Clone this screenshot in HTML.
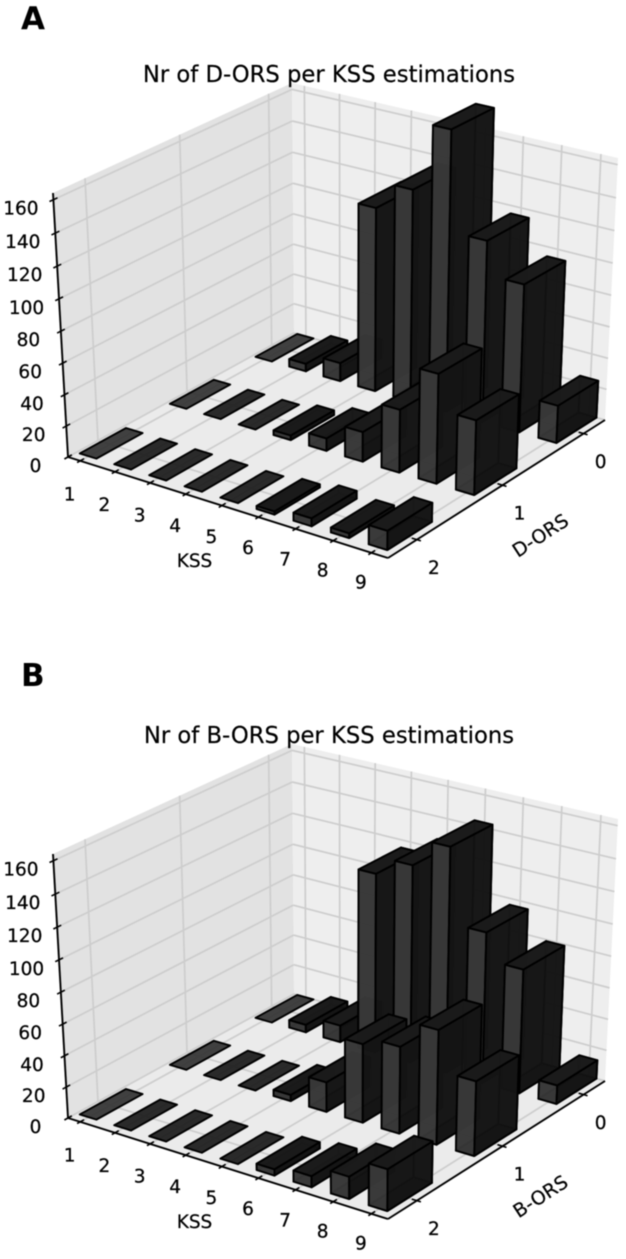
<!DOCTYPE html>
<html lang="en">
<head>
<meta charset="utf-8">
<title>Nr of ORS per KSS estimations</title>
<style>
html,body{margin:0;padding:0;background:#fff;}
svg{display:block;filter:blur(0.5px);font-family:"DejaVu Sans","Liberation Sans",sans-serif;}
</style>
</head>
<body>
<svg id="figure" xmlns="http://www.w3.org/2000/svg" width="626" height="1259" viewBox="0 0 626 1259">
  <rect width="626" height="1259" fill="#ffffff"/>
  <g id="panel-a"></g>
  <g id="panel-b" transform="translate(0,661)"></g>
  <text x="21" y="29" font-size="31" font-weight="bold" fill="#000">A</text>
  <text x="329" y="82" font-size="22.7" text-anchor="middle" fill="#000" stroke="#000" stroke-width="0.2">Nr of D-ORS per KSS estimations</text>
  <text x="194.5" y="567" font-size="18.5" text-anchor="middle" fill="#000" stroke="#000" stroke-width="0.2">KSS</text>
  <text x="0" y="0" font-size="19" text-anchor="middle" fill="#000" stroke="#000" stroke-width="0.2" transform="translate(544,541) rotate(-33)">D-ORS</text>
  <text x="21" y="686" font-size="31" font-weight="bold" fill="#000">B</text>
  <text x="329" y="743" font-size="22.7" text-anchor="middle" fill="#000" stroke="#000" stroke-width="0.2">Nr of B-ORS per KSS estimations</text>
  <text x="194.5" y="1228" font-size="18.5" text-anchor="middle" fill="#000" stroke="#000" stroke-width="0.2">KSS</text>
  <text x="0" y="0" font-size="19" text-anchor="middle" fill="#000" stroke="#000" stroke-width="0.2" transform="translate(544,1202) rotate(-33)">B-ORS</text>
</svg>
<script>
// ---- chart data ----
const kssCategories = [1, 2, 3, 4, 5, 6, 7, 8, 9];
const orsLevels = [0, 1, 2];
const countTicks = [0, 20, 40, 60, 80, 100, 120, 140, 160];

const dOrs0 = [0, 5, 12, 118, 135, 177, 115, 94, 24];
const dOrs1 = [0, 0, 0, 3, 8, 19, 40, 69, 47];
const dOrs2 = [0, 0, 0, 0, 0, 2, 5, 3, 12];

const bOrs0 = [0, 5, 11, 115, 126, 143, 96, 79, 12];
const bOrs1 = [0, 0, 0, 4, 19, 50, 55, 72, 47];
const bOrs2 = [0, 0, 0, 0, 0, 4, 7, 14, 26];

// ---- projection: homographies of floor and ceiling of the 3D box ----
const NS = 'http://www.w3.org/2000/svg';
const zMax = 164;
function homography(q) {
  const [x0, y0] = q[0], [x1, y1] = q[1], [x2, y2] = q[2], [x3, y3] = q[3];
  const dx1 = x1 - x2, dx2 = x3 - x2, sx = x0 - x1 + x2 - x3;
  const dy1 = y1 - y2, dy2 = y3 - y2, sy = y0 - y1 + y2 - y3;
  const den = dx1 * dy2 - dx2 * dy1;
  const g = (sx * dy2 - dx2 * sy) / den, h = (dx1 * sy - sx * dy1) / den;
  const a = x1 - x0 + g * x1, b = x3 - x0 + h * x3, d = y1 - y0 + g * y1, e = y3 - y0 + h * y3;
  return (u, v) => {
    const w = g * u + h * v + 1;
    return [(a * u + b * v + x0) / w, (d * u + e * v + y0) / w];
  };
}
const floorMap = homography([[68, 457], [388, 558], [605, 420], [294, 333]]);
const ceilMap = homography([[53, 193], [390, 283], [618, 158], [292, 83]]);
function project(u, v, z) {
  const f = floorMap(u, v), c = ceilMap(u, v), r = z / zMax;
  const t = r - 0.045 * r * (1 - r);
  return [f[0] + (c[0] - f[0]) * t, f[1] + (c[1] - f[1]) * t];
}
function tickU(k) { return 0.0405 + (k - 1) * 0.1138; }
function tickV(level) { return 0.125 + (2 - level) * 0.385; }
function barU0(k) { return 0.011 + (k - 1) * 0.1135; }
function barU1(k) { return barU0(k) + 0.055; }
function barV0(level) { return 0.035 + (2 - level) * 0.385; }
function barV1(level) { return barV0(level) + 0.195; }

// ---- drawing helpers ----
function line(parent, name, a, b, stroke, width) {
  const el = document.createElementNS(NS, 'line');
  
  
  el.setAttribute('x1', a[0].toFixed(2));
  el.setAttribute('y1', a[1].toFixed(2));
  el.setAttribute('x2', b[0].toFixed(2));
  el.setAttribute('y2', b[1].toFixed(2));
  el.setAttribute('stroke', stroke);
  el.setAttribute('stroke-width', width);
  parent.appendChild(el);
  return el;
}
function poly(parent, name, pts, fill, opacity, stroke, width) {
  const el = document.createElementNS(NS, 'polygon');
  
  
  el.setAttribute('points', pts.map(p => p[0].toFixed(2) + ',' + p[1].toFixed(2)).join(' '));
  el.setAttribute('fill', fill);
  el.setAttribute('fill-opacity', opacity);
  el.setAttribute('stroke', stroke);
  el.setAttribute('stroke-width', width);
  el.setAttribute('stroke-linejoin', 'round');
  parent.appendChild(el);
  return el;
}
function label(parent, name, str, x, y) {
  const el = document.createElementNS(NS, 'text');
  
  
  el.setAttribute('x', x.toFixed(1));
  el.setAttribute('y', y.toFixed(1));
  el.setAttribute('font-size', '18.5');
  el.setAttribute('text-anchor', 'middle');
  el.setAttribute('fill', '#000');
  el.setAttribute('stroke', '#000');
  el.setAttribute('stroke-width', '0.25');
  el.textContent = str;
  parent.appendChild(el);
  return el;
}

function drawBox(g) {
  poly(g, 'left-wall', [project(0,0,0), project(0,1,0), project(0,1,zMax), project(0,0,zMax)], '#e2e2e2', 1, 'none', 0);
  poly(g, 'back-wall', [project(0,1,0), project(1,1,0), project(1,1,zMax), project(0,1,zMax)], '#eeeeee', 1, 'none', 0);
  poly(g, 'floor', [project(0,0,0), project(1,0,0), project(1,1,0), project(0,1,0)], '#ebebeb', 1, 'none', 0);
  const gridColor = '#cdcdcd';
  countTicks.forEach(z => {
    line(g, 'grid-count-left-' + z, project(0,0,z), project(0,1,z), gridColor, 1.7);
    line(g, 'grid-count-back-' + z, project(0,1,z), project(1,1,z), gridColor, 1.7);
  });
  kssCategories.forEach(k => {
    const u = tickU(k);
    line(g, 'grid-kss-floor-' + k, project(u,0,0), project(u,1,0), gridColor, 1.7);
    line(g, 'grid-kss-wall-' + k, project(u,1,0), project(u,1,zMax), gridColor, 1.7);
  });
  orsLevels.forEach(d => {
    const v = tickV(d);
    line(g, 'grid-ors-floor-' + d, project(0,v,0), project(1,v,0), gridColor, 1.7);
    line(g, 'grid-ors-wall-' + d, project(0,v,0), project(0,v,zMax), gridColor, 1.7);
  });
}

function drawAxes(g) {
  line(g, 'x-axis-line', project(0,0,0), project(1,0,0), '#000', 1.9);
  line(g, 'y-axis-line', project(1,0,0), project(1,1,0), '#000', 1.9);
  line(g, 'z-axis-line', project(0,0,0), project(0,0,zMax), '#000', 1.9);
  kssCategories.forEach(k => {
    const u = tickU(k);
    const p = project(u,0,0);
    line(g, 'x-tick-' + k, project(u,-0.013,0), project(u,0.016,0), '#000', 1.6);
    label(g, 'x-tick-label-' + k, String(k), p[0] - 10.5, p[1] + 39.5 - (k - 1) * 0.5);
  });
  orsLevels.forEach(d => {
    const v = tickV(d);
    const p = project(1,v,0);
    line(g, 'y-tick-' + d, project(0.985,v,0), project(1.012,v,0), '#000', 1.6);
    label(g, 'y-tick-label-' + d, String(d), p[0] + 17, p[1] + 34.5);
  });
  countTicks.forEach(z => {
    const p = project(0,0,z);
    line(g, 'z-tick-' + z, project(0,-0.015,z), project(0,0.016,z), '#000', 1.6);
    label(g, 'z-tick-label-' + z, String(z), p[0] - 32.5, p[1] + 15);
  });
}

function drawBar(g, k, level, h) {
  const u0 = barU0(k), u1 = barU1(k), v0 = barV0(level), v1 = barV1(level);
  const bar = document.createElementNS(NS, 'g');
  
  
  g.appendChild(bar);
  const edge = '#000', ew = 1.9;
  if (h > 0) {
    poly(bar, 'bar-bottom', [project(u0,v0,0), project(u1,v0,0), project(u1,v1,0), project(u0,v1,0)], '#1a1a1a', 1, edge, ew);
    poly(bar, 'bar-back', [project(u0,v1,0), project(u1,v1,0), project(u1,v1,h), project(u0,v1,h)], '#121212', 0.9, edge, ew);
    poly(bar, 'bar-inner-side', [project(u0,v0,0), project(u0,v1,0), project(u0,v1,h), project(u0,v0,h)], '#101010', 0.9, edge, ew);
    poly(bar, 'bar-front-left', [project(u0,v0,0), project(u1,v0,0), project(u1,v0,h), project(u0,v0,h)], '#3e3e3e', 0.86, edge, ew);
    poly(bar, 'bar-front-right', [project(u1,v0,0), project(u1,v1,0), project(u1,v1,h), project(u1,v0,h)], '#151515', 0.85, edge, ew);
  }
  const topFill = (h === 0 && k === 1) ? '#333333' : '#1b1b1b';
  poly(bar, 'bar-top', [project(u0,v0,h), project(u1,v0,h), project(u1,v1,h), project(u0,v1,h)], topFill, 0.93, edge, ew);
}

function drawBars(g, rows) {
  orsLevels.forEach(level => {
    kssCategories.forEach((k, i) => {
      drawBar(g, k, level, rows[level][i]);
    });
  });
}

function drawPanel(id, rows) {
  const g = document.getElementById(id);
  drawBox(g);
  drawAxes(g);
  drawBars(g, rows);
}

drawPanel('panel-a', [dOrs0, dOrs1, dOrs2]);
drawPanel('panel-b', [bOrs0, bOrs1, bOrs2]);
</script>
</body>
</html>
